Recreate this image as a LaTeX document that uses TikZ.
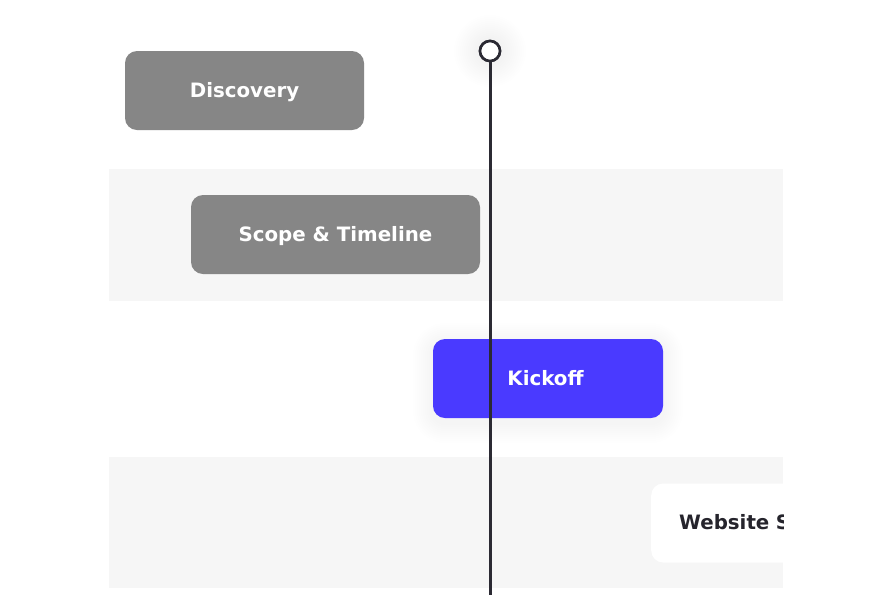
\documentclass[tikz,border=0pt]{standalone}
\usepackage{fontspec}
\setmainfont{DejaVu Sans}
\definecolor{bandgray}{HTML}{F6F6F6}
\definecolor{boxgray}{HTML}{868686}
\definecolor{kickblue}{HTML}{4A3AFF}
\definecolor{linedark}{HTML}{2B2A33}
\definecolor{textdark}{HTML}{25242C}
\tikzset{
  band/.style={fill=bandgray, draw=none},
  taskbox/.style={rounded corners=12pt, minimum width=#1, minimum height=79pt, inner sep=0pt,
    text height=13pt, text depth=0pt,
    font=\fontsize{19.8pt}{22pt}\selectfont\bfseries, text=white},
  taskbox/.default=239pt,
  graybox/.style={fill=boxgray},
  bluebox/.style={fill=kickblue},
  whitebox/.style={fill=white, text=textdark},
  marker/.style={circle, draw=linedark, line width=2.6pt, fill=white, minimum size=20pt, inner sep=0pt},
  nowline/.style={draw=linedark, line width=3pt}
}
\begin{document}
\begin{tikzpicture}[x=1pt,y=-1pt]
\useasboundingbox (0,0) rectangle (892,614);
\fill[white] (0,0) rectangle (892,614);
% bands
\path[band] (109,169) rectangle (783,301);
\path[band] (109,457) rectangle (783,588);
% faint glow around marker
\foreach \r in {14,16,...,36} {\fill[black, opacity=0.004] (490,51) circle (\r);}
% soft shadow of the kickoff box
\foreach \d in {2,4,...,20} {\fill[kickblue!40!black, opacity=0.0045, rounded corners=12pt+\d] (433-\d,343-\d) rectangle (663+\d,423+\d);}
% tasks
\node[taskbox=239pt, graybox] (disc) at (244.5,90.5) {Discovery};
\node[taskbox=289pt, graybox] (scope) at (335.5,234.5) {Scope \& Timeline};
\node[taskbox=230pt, bluebox] (kick) at (548,378.5) {\hspace*{-5pt}Kickoff};
\begin{scope}
\clip (109,440) rectangle (783,600);
\node[taskbox=230pt, whitebox, anchor=west, text width=230pt, align=left] (web) at (651,523) {\hspace*{28pt}Website S};
\end{scope}
% now line
\coordinate (lineend) at (490,595);
\node[marker] (mark) at (490,51) {};
\draw[nowline] (mark.south) -- (lineend);
\node[marker] at (mark) {};
\end{tikzpicture}
\end{document}
